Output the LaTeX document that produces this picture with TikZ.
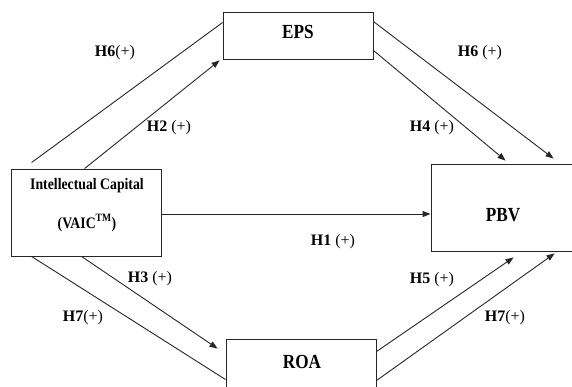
\documentclass[tikz,border=0pt]{standalone}
\usepackage{fontspec}
\setmainfont{Liberation Serif}
\newfontfamily\condserif[FakeStretch=0.86]{Liberation Serif}
\usetikzlibrary{arrows.meta,calc}
\tikzset{
  box/.style={draw=black!85, line width=0.9pt, rectangle, inner sep=0pt},
  boxtext/.style={font=\condserif\fontsize{20}{22}\selectfont\bfseries, inner sep=0pt},
  ictext/.style={font=\condserif\fontsize{16}{18}\selectfont\bfseries, inner sep=0pt},
  hyp/.style={font=\fontsize{16}{18}\selectfont, inner sep=0pt},
  conn/.style={draw=black!85, line width=0.9pt},
  arr/.style={conn, -{Triangle[length=8pt,width=6pt]}}
}
\begin{document}
\begin{tikzpicture}[x=1pt,y=-1pt]
\useasboundingbox (0,0) rectangle (572,387);
\clip (0,0) rectangle (572,387);
% boxes
\node[box, minimum width=150pt, minimum height=47pt] (eps) at (298,35.5) {};
\node[box, minimum width=150pt, minimum height=87pt] (ic) at (86,212.5) {};
\node[box, minimum width=160pt, minimum height=87pt] (pbv) at (511,207.5) {};
\node[box, minimum width=150pt, minimum height=80pt] (roa) at (301,379) {};
% box texts
\node[boxtext] (epst) at (298,32) {EPS};
\node[boxtext] (pbvt) at (503,215) {PBV};
\node[boxtext] (roat) at (302,362) {ROA};
\node[ictext] (ic1) at (87,186) {Intellectual Capital};
\node[ictext] (ic2) at (87,223) {(VAIC\textsuperscript{TM})};
% connectors
\draw[conn] ([xshift=21pt,yshift=6pt]ic.north west) -- ([yshift=-11pt]eps.north west);
\draw[arr] ([xshift=74pt]ic.north west) -- ([xshift=-3pt,yshift=-1pt]eps.south west);
\draw[arr] ([yshift=9pt]eps.south east) -- ([xshift=75pt,yshift=3pt]pbv.north west);
\draw[arr] ([yshift=-10pt]eps.north east) -- ([xshift=123pt,yshift=5pt]pbv.north west);
\draw[arr] ([yshift=-1.5pt]ic.east) -- ([yshift=-1.5pt]ic.east -| pbv.west);
\draw[arr] ([xshift=71pt]ic.south west) -- ([xshift=-8pt,yshift=-10pt]roa.north west);
\draw[conn] ([xshift=21pt]ic.south west) -- ([yshift=-41pt]roa.north west);
\draw[arr] ([yshift=-13pt]roa.north east) -- ([xshift=83pt,yshift=-6pt]pbv.south west);
\draw[arr] ([yshift=-42pt]roa.north east) -- ([xshift=124pt,yshift=-2pt]pbv.south west);
% hypothesis labels
\node[hyp] (h6a) at (115,53) {\textbf{H6}(+)};
\node[hyp] (h2) at (169,128) {\textbf{H2} (+)};
\node[hyp] (h6b) at (480,53) {\textbf{H6} (+)};
\node[hyp] (h4) at (432,128) {\textbf{H4} (+)};
\node[hyp] (h1) at (333,242) {\textbf{H1} (+)};
\node[hyp] (h3) at (150,279) {\textbf{H3} (+)};
\node[hyp] (h7a) at (83,318) {\textbf{H7}(+)};
\node[hyp] (h5) at (432,280) {\textbf{H5} (+)};
\node[hyp] (h7b) at (505,318) {\textbf{H7}(+)};
\end{tikzpicture}
\end{document}
